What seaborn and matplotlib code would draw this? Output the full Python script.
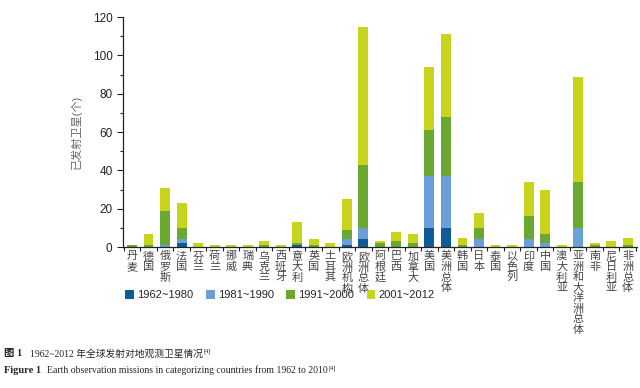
import pandas as pd
import matplotlib.pyplot as plt
import seaborn as sns
from matplotlib.patches import Patch
from matplotlib.ticker import MultipleLocator, FixedLocator

countries = ['丹麦', '德国', '俄罗斯', '法国', '芬兰', '荷兰', '挪威', '瑞典', '乌克兰', '西班牙',
             '意大利', '英国', '土耳其', '欧洲机构', '欧洲总体', '阿根廷', '巴西', '加拿大', '美国',
             '美洲总体', '韩国', '日本', '泰国', '以色列', '印度', '中国', '澳大利亚',
             '亚洲和大洋洲总体', '南非', '尼日利亚', '非洲总体']
periods = ['1962~1980', '1981~1990', '1991~2000', '2001~2012']

p1962_1980 = [0, 0, 0, 2, 0, 0, 0, 0, 0, 0, 1, 0, 0, 1, 4, 0, 0, 0, 10, 10, 0, 0, 0, 0, 0, 0, 0, 0, 0, 0, 0]
p1981_1990 = [0, 0, 1, 2, 0, 0, 0, 0, 0, 0, 0, 0, 0, 3, 6, 0, 0, 0, 27, 27, 0, 4, 0, 0, 4, 2, 0, 10, 0, 0, 0]
p1991_2000 = [1, 1, 18, 6, 0, 0, 0, 0, 1, 0, 1, 1, 0, 5, 33, 2, 3, 2, 24, 31, 1, 6, 0, 0, 12, 5, 0, 24, 1, 0, 1]
p2001_2012 = [0, 6, 12, 13, 2, 1, 1, 1, 2, 1, 11, 3, 2, 16, 72, 1, 5, 5, 33, 43, 4, 8, 1, 1, 18, 23, 1, 55, 1, 3, 4]

colors = ['#0e5b98', '#6b9fd7', '#6aa832', '#c8d41c']

df = pd.DataFrame({'country': countries, periods[0]: p1962_1980, periods[1]: p1981_1990,
                   periods[2]: p1991_2000, periods[3]: p2001_2012})
cum = df[periods].cumsum(axis=1)

sns.set_style('ticks')
plt.rcParams['font.family'] = ['Liberation Sans', 'Noto Sans CJK SC', 'DejaVu Sans']

fig = plt.figure(figsize=(6.4, 3.88), dpi=100)
ax = fig.add_axes([0.192, 0.363, 0.803, 0.593])

# stacked bars: draw cumulative totals, tallest first
for i in range(len(periods) - 1, -1, -1):
    sns.barplot(x=df['country'], y=cum[periods[i]], color=colors[i], saturation=1,
                width=0.6, linewidth=0, errorbar=None, ax=ax)

ax.set_xlim(-0.55, len(countries) - 0.45)
ax.set_ylim(0, 120)
ax.yaxis.set_major_locator(MultipleLocator(20))
ax.yaxis.set_minor_locator(MultipleLocator(10))
ax.tick_params(axis='y', which='major', length=4, width=0.8, labelsize=8.5, colors='#222222')
ax.tick_params(axis='y', which='minor', length=2, width=0.8, colors='#222222')

ax.set_xticks(range(len(countries)))
ax.set_xticklabels(['\n'.join(c) for c in countries], linespacing=1.05, va='top')
ax.xaxis.set_minor_locator(FixedLocator([i + 0.5 for i in range(-1, len(countries))]))
ax.tick_params(axis='x', which='major', length=0, pad=3, labelsize=8, colors='#444444')
ax.tick_params(axis='x', which='minor', length=3, width=0.8, colors='#222222')

ax.set_xlabel('')
ax.set_ylabel('已发射卫星(个)', fontsize=8, color='#666666', labelpad=8)
for s in ['top', 'right']:
    ax.spines[s].set_visible(False)
for s in ['left', 'bottom']:
    ax.spines[s].set_color('#222222')
    ax.spines[s].set_linewidth(0.9)

handles = [Patch(facecolor=c, edgecolor='none') for c in colors]
fig.legend(handles, periods, ncol=4, loc='center left', bbox_to_anchor=(0.18, 0.24),
           frameon=False, fontsize=8, handlelength=0.8, handleheight=0.9,
           handletextpad=0.3, columnspacing=1.1)

# caption, with [4] set as a small raised text after each line
cap_font = ['Liberation Serif', 'Noto Sans CJK SC']
fig.text(0.006, 0.088, '图 1', fontsize=7.5, fontweight='bold', family=cap_font, va='center')
t1 = fig.text(0.047, 0.088, '1962~2012 年全球发射对地观测卫星情况', fontsize=7,
              family=cap_font, va='center')
fig.text(0.006, 0.045, 'Figure 1', fontsize=7.5, fontweight='bold', family=cap_font, va='center')
t2 = fig.text(0.073, 0.045, 'Earth observation missions in categorizing countries from 1962 to 2010',
              fontsize=7, family=cap_font, va='center')

renderer = fig.canvas.get_renderer()
for t in (t1, t2):
    bb = t.get_window_extent(renderer).transformed(fig.transFigure.inverted())
    fig.text(bb.x1 + 0.001, bb.y1 - 0.006, '[4]', fontsize=4.5, family=cap_font, va='center')

fig.savefig('out.png', dpi=100)
